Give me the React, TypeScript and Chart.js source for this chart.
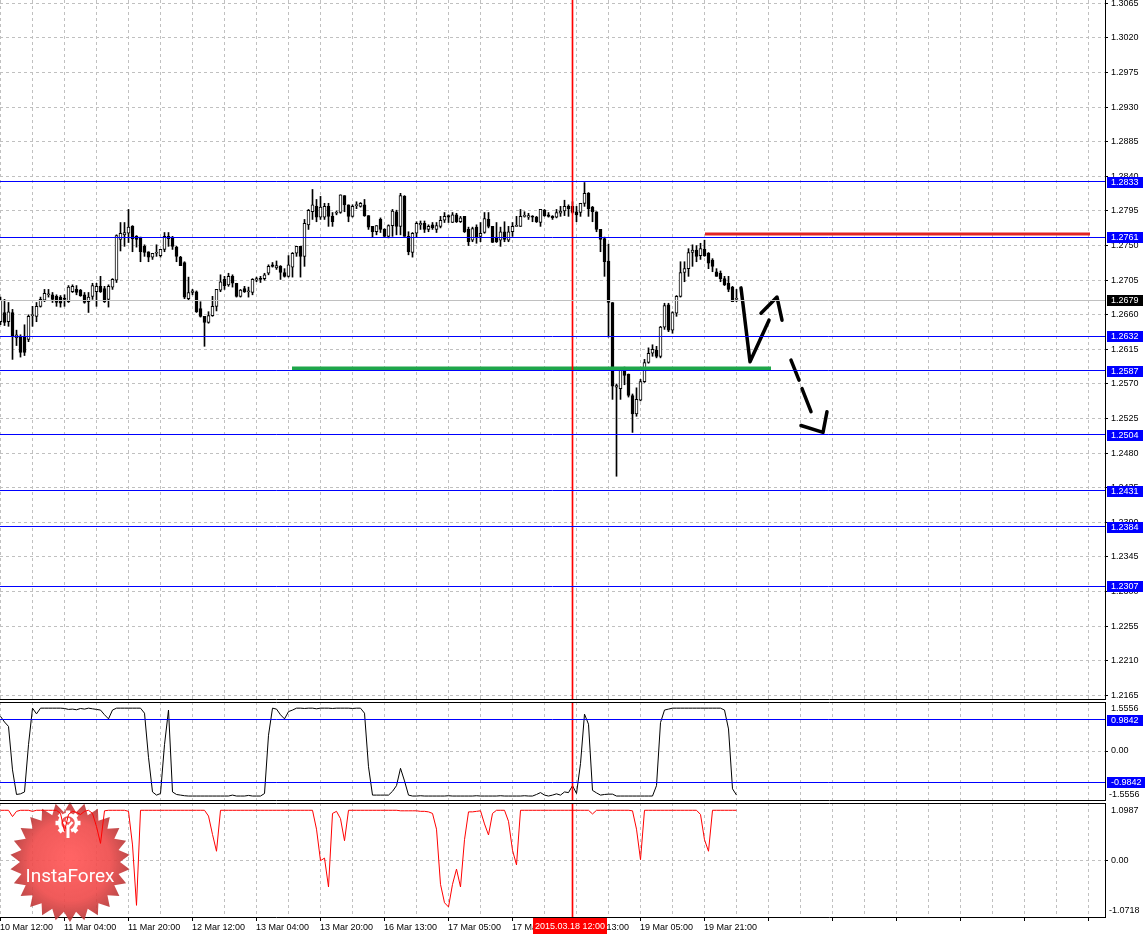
import React, { useEffect, useRef } from 'react';
import { Chart, registerables } from 'chart.js';

Chart.register(...registerables);

const FAMILY = "'Liberation Sans', Arial, sans-serif";
const TICK_FONT = { family: FAMILY, size: 9 };

// ---------------- data ----------------
const timeLabels = [
  '10 Mar 12:00', '11 Mar 04:00', '11 Mar 20:00', '12 Mar 12:00', '13 Mar 04:00', '13 Mar 20:00',
  '16 Mar 13:00', '17 Mar 05:00', '17 Mar 21:00', '18 Mar 13:00', '19 Mar 05:00', '19 Mar 21:00',
];
const markerBar = 143;
const markerLabel = '2015.03.18 12:00';

const priceTicks = [
  1.2165, 1.2210, 1.2255, 1.2300, 1.2345, 1.2390, 1.2435, 1.2480, 1.2525, 1.2570, 1.2615,
  1.2660, 1.2705, 1.2750, 1.2795, 1.2840, 1.2885, 1.2930, 1.2975, 1.3020, 1.3065,
];

const opens = [
  1.2651, 1.2663, 1.2651, 1.2663, 1.2630, 1.2632, 1.2632, 1.2628, 1.2659, 1.2658,
  1.2671, 1.2679, 1.2686, 1.2686, 1.2684, 1.2683, 1.2681, 1.2677, 1.2690, 1.2693,
  1.2692, 1.2686, 1.2677, 1.2684, 1.2690, 1.2697, 1.2694, 1.2680, 1.2696, 1.2705,
  1.2758, 1.2764, 1.2766, 1.2775, 1.2762, 1.2761, 1.2749, 1.2742, 1.2735, 1.2740,
  1.2737, 1.2745, 1.2762, 1.2761, 1.2748, 1.2735, 1.2728, 1.2681, 1.2689, 1.2690,
  1.2668, 1.2658, 1.2650, 1.2659, 1.2671, 1.2692, 1.2706, 1.2699, 1.2710, 1.2701,
  1.2684, 1.2694, 1.2690, 1.2689, 1.2705, 1.2707, 1.2707, 1.2714, 1.2725, 1.2721,
  1.2723, 1.2715, 1.2710, 1.2722, 1.2740, 1.2749, 1.2736, 1.2777, 1.2794, 1.2801,
  1.2787, 1.2787, 1.2801, 1.2788, 1.2792, 1.2793, 1.2815, 1.2803, 1.2788, 1.2802,
  1.2801, 1.2803, 1.2789, 1.2775, 1.2768, 1.2784, 1.2771, 1.2762, 1.2776, 1.2794,
  1.2775, 1.2814, 1.2762, 1.2741, 1.2766, 1.2777, 1.2779, 1.2771, 1.2777, 1.2771,
  1.2775, 1.2783, 1.2789, 1.2780, 1.2790, 1.2781, 1.2788, 1.2771, 1.2757, 1.2774,
  1.2762, 1.2767, 1.2784, 1.2775, 1.2761, 1.2757, 1.2768, 1.2757, 1.2768, 1.2775,
  1.2775, 1.2788, 1.2787, 1.2788, 1.2787, 1.2780, 1.2796, 1.2790, 1.2788, 1.2787,
  1.2792, 1.2795, 1.2801, 1.2801, 1.2794, 1.2793, 1.2805, 1.2818, 1.2800, 1.2794,
  1.2771, 1.2759, 1.2730, 1.2676, 1.2566, 1.2564, 1.2588, 1.2583, 1.2555, 1.2531,
  1.2549, 1.2573, 1.2598, 1.2610, 1.2614, 1.2606, 1.2644, 1.2673, 1.2640, 1.2662,
  1.2684, 1.2715, 1.2720, 1.2741, 1.2744, 1.2737, 1.2745, 1.2740, 1.2731, 1.2716,
  1.2714, 1.2707, 1.2701, 1.2696, 1.2680,
];
const highs = [
  1.2683, 1.2680, 1.2676, 1.2667, 1.2640, 1.2634, 1.2647, 1.2660, 1.2671, 1.2676,
  1.2683, 1.2693, 1.2693, 1.2689, 1.2686, 1.2685, 1.2686, 1.2698, 1.2699, 1.2698,
  1.2693, 1.2689, 1.2689, 1.2701, 1.2701, 1.2710, 1.2697, 1.2699, 1.2707, 1.2764,
  1.2780, 1.2780, 1.2797, 1.2776, 1.2763, 1.2761, 1.2751, 1.2742, 1.2740, 1.2751,
  1.2745, 1.2767, 1.2767, 1.2762, 1.2749, 1.2736, 1.2729, 1.2709, 1.2693, 1.2691,
  1.2677, 1.2658, 1.2664, 1.2684, 1.2693, 1.2712, 1.2710, 1.2714, 1.2712, 1.2701,
  1.2693, 1.2697, 1.2696, 1.2707, 1.2709, 1.2710, 1.2714, 1.2725, 1.2728, 1.2730,
  1.2724, 1.2720, 1.2737, 1.2741, 1.2749, 1.2749, 1.2784, 1.2797, 1.2823, 1.2810,
  1.2814, 1.2805, 1.2805, 1.2793, 1.2795, 1.2816, 1.2815, 1.2803, 1.2803, 1.2807,
  1.2806, 1.2810, 1.2789, 1.2775, 1.2776, 1.2786, 1.2772, 1.2777, 1.2797, 1.2796,
  1.2818, 1.2815, 1.2768, 1.2767, 1.2781, 1.2782, 1.2782, 1.2777, 1.2780, 1.2780,
  1.2788, 1.2793, 1.2790, 1.2793, 1.2792, 1.2788, 1.2788, 1.2774, 1.2774, 1.2777,
  1.2780, 1.2793, 1.2793, 1.2775, 1.2780, 1.2774, 1.2781, 1.2775, 1.2780, 1.2788,
  1.2797, 1.2794, 1.2792, 1.2789, 1.2788, 1.2797, 1.2797, 1.2793, 1.2789, 1.2797,
  1.2801, 1.2809, 1.2803, 1.2807, 1.2801, 1.2805, 1.2832, 1.2819, 1.2801, 1.2794,
  1.2771, 1.2761, 1.2752, 1.2676, 1.2570, 1.2591, 1.2592, 1.2583, 1.2557, 1.2565,
  1.2576, 1.2602, 1.2617, 1.2621, 1.2619, 1.2645, 1.2675, 1.2675, 1.2664, 1.2685,
  1.2729, 1.2729, 1.2746, 1.2751, 1.2750, 1.2753, 1.2757, 1.2741, 1.2733, 1.2720,
  1.2717, 1.2710, 1.2710, 1.2697, 1.2693,
];
const lows = [
  1.2647, 1.2646, 1.2645, 1.2602, 1.2620, 1.2605, 1.2607, 1.2625, 1.2645, 1.2651,
  1.2670, 1.2677, 1.2683, 1.2676, 1.2671, 1.2670, 1.2671, 1.2676, 1.2689, 1.2686,
  1.2684, 1.2675, 1.2663, 1.2680, 1.2671, 1.2689, 1.2676, 1.2670, 1.2693, 1.2702,
  1.2743, 1.2749, 1.2754, 1.2742, 1.2748, 1.2729, 1.2736, 1.2729, 1.2732, 1.2736,
  1.2735, 1.2742, 1.2749, 1.2745, 1.2729, 1.2724, 1.2681, 1.2679, 1.2686, 1.2663,
  1.2657, 1.2619, 1.2649, 1.2658, 1.2665, 1.2690, 1.2693, 1.2697, 1.2696, 1.2683,
  1.2683, 1.2689, 1.2683, 1.2686, 1.2703, 1.2702, 1.2705, 1.2712, 1.2722, 1.2719,
  1.2706, 1.2709, 1.2709, 1.2709, 1.2736, 1.2709, 1.2723, 1.2771, 1.2784, 1.2781,
  1.2784, 1.2784, 1.2775, 1.2775, 1.2790, 1.2792, 1.2794, 1.2781, 1.2787, 1.2798,
  1.2800, 1.2788, 1.2771, 1.2761, 1.2764, 1.2767, 1.2761, 1.2760, 1.2762, 1.2764,
  1.2764, 1.2762, 1.2738, 1.2735, 1.2761, 1.2771, 1.2767, 1.2768, 1.2771, 1.2767,
  1.2773, 1.2780, 1.2780, 1.2780, 1.2780, 1.2780, 1.2767, 1.2750, 1.2755, 1.2753,
  1.2755, 1.2766, 1.2773, 1.2754, 1.2754, 1.2749, 1.2755, 1.2755, 1.2762, 1.2775,
  1.2775, 1.2787, 1.2784, 1.2781, 1.2780, 1.2775, 1.2788, 1.2787, 1.2784, 1.2786,
  1.2788, 1.2789, 1.2788, 1.2792, 1.2781, 1.2788, 1.2801, 1.2788, 1.2781, 1.2768,
  1.2742, 1.2710, 1.2631, 1.2550, 1.2450, 1.2550, 1.2569, 1.2553, 1.2507, 1.2528,
  1.2548, 1.2572, 1.2597, 1.2606, 1.2604, 1.2604, 1.2641, 1.2638, 1.2636, 1.2658,
  1.2683, 1.2703, 1.2710, 1.2723, 1.2729, 1.2732, 1.2736, 1.2720, 1.2716, 1.2710,
  1.2703, 1.2698, 1.2690, 1.2677, 1.2677,
];
const closes = [
  1.2679, 1.2650, 1.2664, 1.2632, 1.2634, 1.2611, 1.2611, 1.2658, 1.2660, 1.2671,
  1.2680, 1.2688, 1.2687, 1.2680, 1.2676, 1.2675, 1.2680, 1.2696, 1.2697, 1.2689,
  1.2685, 1.2676, 1.2683, 1.2698, 1.2697, 1.2690, 1.2677, 1.2697, 1.2706, 1.2763,
  1.2766, 1.2767, 1.2774, 1.2759, 1.2758, 1.2742, 1.2741, 1.2735, 1.2740, 1.2741,
  1.2745, 1.2762, 1.2759, 1.2749, 1.2736, 1.2724, 1.2683, 1.2689, 1.2691, 1.2664,
  1.2658, 1.2650, 1.2659, 1.2671, 1.2693, 1.2703, 1.2698, 1.2710, 1.2701, 1.2684,
  1.2692, 1.2690, 1.2690, 1.2706, 1.2707, 1.2706, 1.2712, 1.2723, 1.2723, 1.2724,
  1.2715, 1.2710, 1.2725, 1.2740, 1.2749, 1.2736, 1.2779, 1.2796, 1.2803, 1.2787,
  1.2800, 1.2801, 1.2788, 1.2781, 1.2793, 1.2816, 1.2803, 1.2788, 1.2801, 1.2802,
  1.2805, 1.2789, 1.2774, 1.2768, 1.2776, 1.2771, 1.2762, 1.2776, 1.2795, 1.2775,
  1.2815, 1.2762, 1.2742, 1.2766, 1.2779, 1.2779, 1.2771, 1.2775, 1.2773, 1.2776,
  1.2783, 1.2788, 1.2787, 1.2790, 1.2781, 1.2786, 1.2768, 1.2755, 1.2772, 1.2761,
  1.2766, 1.2785, 1.2775, 1.2754, 1.2755, 1.2768, 1.2758, 1.2768, 1.2775, 1.2776,
  1.2788, 1.2788, 1.2789, 1.2787, 1.2781, 1.2797, 1.2789, 1.2788, 1.2786, 1.2793,
  1.2795, 1.2801, 1.2798, 1.2793, 1.2790, 1.2805, 1.2818, 1.2798, 1.2794, 1.2771,
  1.2758, 1.2729, 1.2676, 1.2567, 1.2568, 1.2588, 1.2581, 1.2555, 1.2531, 1.2550,
  1.2573, 1.2598, 1.2610, 1.2615, 1.2606, 1.2644, 1.2672, 1.2640, 1.2663, 1.2684,
  1.2715, 1.2720, 1.2741, 1.2744, 1.2736, 1.2746, 1.2737, 1.2727, 1.2723, 1.2710,
  1.2707, 1.2699, 1.2693, 1.2677, 1.2680,
];

const blueLevels = [1.2833, 1.2761, 1.2632, 1.2587, 1.2504, 1.2431, 1.2384, 1.2307];
const bidLevel = 1.2679;
const supportLevel = 1.2590;
const supportSpan = [73, 192.75];
const resistLevel = 1.2765;
const resistSpan = [176.25, 272.5];

const zigzagSolid = [{ x: 185.25, y: 1.2695 }, { x: 187.5, y: 1.2599 }, { x: 192.25, y: 1.2653 }];
const zigzagHead = [{ x: 190.25, y: 1.2662 }, { x: 194.25, y: 1.2683 }, { x: 195.5, y: 1.2653 }];
const dashA = [{ x: 197.75, y: 1.2601 }, { x: 199.75, y: 1.2575 }];
const dashB = [{ x: 200.5, y: 1.2564 }, { x: 202.75, y: 1.2534 }];
const dashHead = [{ x: 200.25, y: 1.2516 }, { x: 205.75, y: 1.2507 }, { x: 206.75, y: 1.2534 }];

const oscLine = [
  1.10, 0.92, 0.78, -0.60, -1.38, -1.36, -1.30, 0.20, 1.36, 1.18,
  1.36, 1.36, 1.36, 1.36, 1.36, 1.36, 1.35, 1.32, 1.33, 1.31,
  1.35, 1.33, 1.36, 1.34, 1.32, 1.30, 1.15, 1.02, 1.30, 1.36,
  1.36, 1.36, 1.36, 1.36, 1.36, 1.36, 1.20, -0.20, -1.30, -1.40,
  -1.35, 0.20, 1.30, -1.30, -1.38, -1.40, -1.42, -1.43, -1.43, -1.43,
  -1.43, -1.43, -1.43, -1.43, -1.43, -1.43, -1.43, -1.43, -1.40, -1.43,
  -1.43, -1.43, -1.41, -1.43, -1.43, -1.43, -1.35, 0.50, 1.36, 1.33,
  1.15, 1.02, 1.25, 1.30, 1.36, 1.36, 1.35, 1.36, 1.36, 1.34,
  1.36, 1.36, 1.36, 1.35, 1.36, 1.36, 1.36, 1.36, 1.35, 1.36,
  1.36, 1.20, -0.50, -1.40, -1.40, -1.40, -1.40, -1.40, -1.28, -1.10,
  -0.55, -0.95, -1.40, -1.43, -1.43, -1.42, -1.43, -1.43, -1.43, -1.43,
  -1.43, -1.43, -1.42, -1.43, -1.43, -1.43, -1.43, -1.43, -1.43, -1.42,
  -1.43, -1.43, -1.43, -1.43, -1.43, -1.42, -1.43, -1.43, -1.43, -1.43,
  -1.43, -1.42, -1.43, -1.43, -1.38, -1.32, -1.40, -1.43, -1.40, -1.36,
  -1.40, -1.30, -1.32, -1.10, -1.35, -0.40, 1.17, 0.85, -1.25, -1.33,
  -1.40, -1.38, -1.37, -1.37, -1.43, -1.43, -1.43, -1.43, -1.43, -1.43,
  -1.43, -1.43, -1.43, -1.43, -1.10, 0.90, 1.30, 1.33, 1.36, 1.36,
  1.36, 1.36, 1.36, 1.36, 1.36, 1.36, 1.36, 1.36, 1.36, 1.36,
  1.36, 1.30, 0.70, -1.20, -1.40,
];
const oscLevels = [0.9842, -0.9842];
const oscMin = -1.5556;
const oscMax = 1.5556;

const trendLine = [
  0.96, 0.96, 0.96, 0.84, 0.94, 0.96, 0.96, 0.96, 0.94, 0.96,
  0.96, 0.96, 0.96, 0.96, 0.96, 0.90, 0.56, 0.88, 0.94, 0.92,
  0.88, 0.94, 0.96, 0.90, 0.65, 0.33, 0.95, 0.96, 0.96, 0.96,
  0.96, 0.96, 0.94, 0.30, -0.85, 0.96, 0.96, 0.96, 0.96, 0.96,
  0.96, 0.96, 0.96, 0.96, 0.96, 0.96, 0.96, 0.96, 0.96, 0.96,
  0.96, 0.96, 0.85, 0.50, 0.18, 0.96, 0.96, 0.96, 0.96, 0.96,
  0.96, 0.96, 0.96, 0.96, 0.96, 0.96, 0.96, 0.96, 0.96, 0.96,
  0.96, 0.96, 0.96, 0.96, 0.96, 0.96, 0.96, 0.96, 0.96, 0.60,
  0.00, 0.05, -0.50, 0.90, 0.94, 0.80, 0.38, 0.96, 0.96, 0.96,
  0.96, 0.96, 0.96, 0.96, 0.96, 0.96, 0.96, 0.96, 0.96, 0.96,
  0.95, 0.95, 0.95, 0.95, 0.95, 0.94, 0.94, 0.93, 0.90, 0.60,
  -0.45, -0.80, -0.88, -0.45, -0.16, -0.50, 0.40, 0.93, 0.93, 0.94,
  0.95, 0.70, 0.49, 0.90, 0.96, 0.96, 0.96, 0.75, 0.20, -0.08,
  0.96, 0.96, 0.96, 0.96, 0.96, 0.96, 0.96, 0.96, 0.96, 0.96,
  0.96, 0.96, 0.96, 0.96, 0.96, 0.96, 0.96, 0.96, 0.89, 0.96,
  0.96, 0.96, 0.96, 0.96, 0.96, 0.96, 0.96, 0.96, 0.95, 0.60,
  0.02, 0.96, 0.96, 0.96, 0.96, 0.96, 0.96, 0.96, 0.96, 0.96,
  0.96, 0.96, 0.96, 0.96, 0.96, 0.88, 0.40, 0.18, 0.96, 0.96,
  0.96, 0.96, 0.96, 0.96, 0.96,
];
const trendMin = -1.0718;
const trendMax = 1.0987;

// ---------------- layout constants ----------------
const CANVAS_W = 1147;
const AXIS_W = 42;
const SLOTS = 276.25; // bar slots across the plot width (4px each)
const BAR_OFF = 0.125;
const PRICE_MIN = 1.21603;
const PRICE_MAX = 1.30694;
const GRID_STEP = 8;

const gridTicks: number[] = [];
for (let v = 0; v <= 272; v += GRID_STEP) gridTicks.push(v);

function xScale(withLabels: boolean, height: number) {
  return {
    type: 'linear',
    min: 0,
    max: SLOTS,
    offset: false,
    position: 'bottom',
    afterBuildTicks: (s: any) => {
      s.ticks = gridTicks.map((v) => ({ value: v }));
    },
    afterFit: (s: any) => {
      s.height = height;
      s.paddingLeft = 0;
      s.paddingRight = 0;
    },
    ticks: {
      display: withLabels,
      autoSkip: false,
      maxRotation: 0,
      minRotation: 0,
      align: 'start',
      padding: 1,
      color: '#000',
      font: TICK_FONT,
      callback: (_v: any, i: number) => (i % 2 === 0 ? timeLabels[i / 2] ?? '' : ''),
    },
    grid: {
      offset: false,
      color: '#c0c0c0',
      lineWidth: 1,
      drawTicks: withLabels,
      tickLength: 4,
      tickColor: (ctx: any) => (ctx.index % 2 === 0 ? '#000' : 'rgba(0,0,0,0)'),
    },
    border: { display: withLabels, color: '#000', width: 1, dash: [3, 3] },
  };
}

function yScale(min: number, max: number, tickValues: number[], fmt: (v: number) => string) {
  return {
    type: 'linear',
    position: 'right',
    min,
    max,
    bounds: 'data',
    weight: 1,
    afterBuildTicks: (s: any) => {
      s.ticks = tickValues.map((v) => ({ value: v }));
    },
    afterFit: (s: any) => {
      s.width = AXIS_W;
      s.paddingTop = 0;
      s.paddingBottom = 0;
    },
    ticks: { color: '#000', font: TICK_FONT, padding: 3, autoSkip: false, callback: (v: any) => fmt(Number(v)) },
    grid: { color: '#c0c0c0', lineWidth: 1, tickLength: 3, tickColor: '#000' },
    border: { display: true, color: '#000', width: 1, dash: [3, 3] },
  };
}

// Horizontal level lines drawn by a zero-width scale's own (pixel-aligned) grid
function levelScale(min: number, max: number, levels: number[], colorOf: (v: number) => string) {
  return {
    type: 'linear',
    position: 'right',
    min,
    max,
    bounds: 'data',
    weight: 0,
    afterBuildTicks: (s: any) => {
      s.ticks = levels.map((v) => ({ value: v }));
    },
    afterFit: (s: any) => {
      s.width = 0;
      s.paddingTop = 0;
      s.paddingBottom = 0;
    },
    ticks: { display: false },
    grid: {
      z: 1,
      lineWidth: 1,
      drawTicks: false,
      color: (ctx: any) => colorOf(ctx.tick ? ctx.tick.value : 0),
    },
    border: { display: false, dash: [] },
  };
}

function hLine(value: number, color: string, width: number, order: number, from: number, to: number) {
  return {
    type: 'line',
    data: [{ x: from, y: value }, { x: to, y: value }],
    borderColor: color,
    borderWidth: width,
    pointRadius: 0,
    fill: false,
    tension: 0,
    order,
  };
}

function vMarker(min: number, max: number) {
  return {
    type: 'bar',
    data: [{ x: markerBar + BAR_OFF, y: [min, max] }],
    backgroundColor: '#ff0000',
    borderWidth: 0,
    grouped: false,
    categoryPercentage: 1,
    barPercentage: 1,
    maxBarThickness: 1,
    order: 0,
  };
}

function penLine(points: { x: number; y: number }[]) {
  return {
    type: 'line',
    data: points,
    borderColor: '#000',
    borderWidth: 3.5,
    borderJoinStyle: 'round',
    borderCapStyle: 'round',
    pointRadius: 0,
    fill: false,
    tension: 0,
    order: 0,
  };
}

function drawTag(ctx: any, text: string, y: number, bg: string, left: number, width: number) {
  const yy = Math.round(y);
  ctx.fillStyle = bg;
  ctx.fillRect(left, yy - 5, width, 11);
  ctx.fillStyle = '#fff';
  ctx.fillText(text, left + 4, yy + 0.5);
}

function framePlugin(top: boolean, bottom: boolean) {
  return {
    id: 'frame',
    afterDraw(chart: any) {
      const { ctx, chartArea: a } = chart;
      ctx.save();
      ctx.strokeStyle = '#000';
      ctx.lineWidth = 1;
      ctx.setLineDash([]);
      ctx.beginPath();
      if (top) {
        ctx.moveTo(a.left, a.top + 0.5);
        ctx.lineTo(a.right + 1, a.top + 0.5);
      }
      if (bottom) {
        ctx.moveTo(a.left, a.bottom + 0.5);
        ctx.lineTo(a.right + 1, a.bottom + 0.5);
      }
      ctx.stroke();
      ctx.restore();
    },
  };
}

const mainTagsPlugin = {
  id: 'mainTags',
  afterDraw(chart: any) {
    const { ctx } = chart;
    const y = chart.scales.y;
    const left = chart.chartArea.right + 2;
    ctx.save();
    ctx.font = `9px ${FAMILY}`;
    ctx.textAlign = 'left';
    ctx.textBaseline = 'middle';
    blueLevels.forEach((v) => drawTag(ctx, v.toFixed(4), y.getPixelForValue(v), '#0000ff', left, 36));
    drawTag(ctx, bidLevel.toFixed(4), y.getPixelForValue(bidLevel), '#000000', left, 36);
    ctx.restore();
  },
};

const oscTagsPlugin = {
  id: 'oscTags',
  afterDraw(chart: any) {
    const { ctx, chartArea: a } = chart;
    const y = chart.scales.y;
    const left = a.right + 2;
    ctx.save();
    ctx.font = `9px ${FAMILY}`;
    ctx.textAlign = 'left';
    ctx.textBaseline = 'middle';
    ctx.fillStyle = '#000';
    ctx.fillText(oscMax.toFixed(4), left + 4, a.top + 7);
    ctx.fillText(oscMin.toFixed(4), left + 2, a.bottom - 5);
    oscLevels.forEach((v) =>
      drawTag(ctx, v.toFixed(4), y.getPixelForValue(v), '#0000ff', left, v < 0 ? 38 : 36)
    );
    ctx.restore();
  },
};

const trendTagsPlugin = {
  id: 'trendTags',
  afterDraw(chart: any) {
    const { ctx, chartArea: a } = chart;
    const left = a.right + 2;
    ctx.save();
    ctx.font = `9px ${FAMILY}`;
    ctx.textAlign = 'left';
    ctx.textBaseline = 'middle';
    ctx.fillStyle = '#000';
    ctx.fillText(trendMax.toFixed(4), left + 4, a.top + 8);
    ctx.fillText(trendMin.toFixed(4), left + 2, a.bottom - 6);
    // date marker tag on the time axis
    const px = Math.round(chart.scales.x.getPixelForValue(markerBar + BAR_OFF));
    ctx.fillStyle = '#ff0000';
    ctx.fillRect(px - 40, a.bottom + 1, 74, 17);
    ctx.fillStyle = '#fff';
    ctx.textAlign = 'center';
    ctx.fillText(markerLabel, px - 3, a.bottom + 10);
    ctx.restore();
  },
};

const badgePlugin = {
  id: 'badge',
  beforeDatasetsDraw(chart: any) {
    const ctx = chart.ctx;
    const cx = 70;
    const cy = 61;
    ctx.save();
    const spikes = 26;
    ctx.beginPath();
    for (let k = 0; k < spikes * 2; k++) {
      const r = k % 2 === 0 ? 60 : 50;
      const ang = -Math.PI / 2 + (k * Math.PI) / spikes;
      const px = cx + r * Math.cos(ang);
      const py = cy + r * Math.sin(ang);
      if (k === 0) ctx.moveTo(px, py);
      else ctx.lineTo(px, py);
    }
    ctx.closePath();
    const g = ctx.createRadialGradient(cx, cy - 4, 4, cx, cy, 60);
    g.addColorStop(0, 'rgba(255,88,88,0.93)');
    g.addColorStop(0.65, 'rgba(238,72,72,0.9)');
    g.addColorStop(1, 'rgba(180,48,48,0.88)');
    ctx.fillStyle = g;
    ctx.fill();
    // gear icon
    const gx = cx - 2;
    const gy = cy - 39;
    ctx.fillStyle = '#fff';
    ctx.strokeStyle = '#fff';
    for (let k = 0; k < 8; k++) {
      if (k === 4) continue;
      ctx.save();
      ctx.translate(gx, gy);
      ctx.rotate((k * Math.PI) / 4);
      ctx.fillRect(-2.2, -12.5, 4.4, 5);
      ctx.restore();
    }
    ctx.lineWidth = 3.5;
    ctx.beginPath();
    ctx.arc(gx, gy, 8.5, Math.PI * 0.62, Math.PI * 2.38);
    ctx.stroke();
    ctx.beginPath();
    ctx.arc(gx, gy - 3, 2.3, 0, Math.PI * 2);
    ctx.fill();
    ctx.lineWidth = 2.5;
    ctx.beginPath();
    ctx.moveTo(gx - 4.5, gy - 1);
    ctx.lineTo(gx, gy + 4);
    ctx.lineTo(gx + 4.5, gy - 1);
    ctx.stroke();
    ctx.lineWidth = 3;
    ctx.beginPath();
    ctx.moveTo(gx, gy + 3);
    ctx.lineTo(gx, gy + 15);
    ctx.stroke();
    // brand text
    ctx.font = `19px Roboto, ${FAMILY}`;
    ctx.textAlign = 'center';
    ctx.textBaseline = 'middle';
    ctx.fillText('InstaForex', cx, cy + 15);
    ctx.restore();
  },
};

function baseOptions(padTop: number) {
  return {
    responsive: false,
    animation: false,
    devicePixelRatio: 1,
    events: [],
    layout: { padding: { top: padTop, left: 0, right: 0, bottom: 0 } },
    plugins: { legend: { display: false }, tooltip: { enabled: false } },
  };
}

function mainConfig(): any {
  const bodies = {
    type: 'bar',
    data: opens.map((o, i) => ({ x: i + BAR_OFF, y: [o, closes[i]] })),
    backgroundColor: (ctx: any) => (closes[ctx.dataIndex] >= opens[ctx.dataIndex] ? '#ffffff' : '#000000'),
    borderColor: '#000',
    borderWidth: 1,
    borderSkipped: false,
    grouped: false,
    categoryPercentage: 1,
    barPercentage: 1,
    maxBarThickness: 3,
    minBarLength: 1,
    order: 6,
  };
  const wicks = {
    type: 'bar',
    data: lows.map((l, i) => ({ x: i + BAR_OFF, y: [l, highs[i]] })),
    backgroundColor: '#000',
    borderWidth: 0,
    grouped: false,
    categoryPercentage: 1,
    barPercentage: 1,
    maxBarThickness: 1,
    order: 7,
  };
  return {
    type: 'bar',
    data: {
      datasets: [
        penLine(zigzagSolid),
        penLine(zigzagHead),
        penLine(dashA),
        penLine(dashB),
        penLine(dashHead),
        hLine(supportLevel, '#1ea64a', 4, 1, supportSpan[0], supportSpan[1]),
        hLine(resistLevel, '#e02424', 3, 1, resistSpan[0], resistSpan[1]),
        vMarker(PRICE_MIN, PRICE_MAX),
        bodies,
        wicks,
      ],
    },
    options: {
      ...baseOptions(0),
      scales: {
        x: xScale(false, 1),
        lv: levelScale(PRICE_MIN, PRICE_MAX, [...blueLevels, bidLevel], (v) =>
          Math.abs(v - bidLevel) < 1e-9 ? '#c0c0c0' : '#0000ff'
        ),
        y: yScale(PRICE_MIN, PRICE_MAX, priceTicks, (v) => v.toFixed(4)),
      },
    },
    plugins: [framePlugin(false, true), mainTagsPlugin],
  };
}

function oscConfig(): any {
  return {
    type: 'line',
    data: {
      datasets: [
        vMarker(oscMin, oscMax),
        {
          type: 'line',
          data: oscLine.map((v, i) => ({ x: i + BAR_OFF, y: v })),
          borderColor: '#000',
          borderWidth: 1,
          pointRadius: 0,
          fill: false,
          tension: 0,
          order: 2,
        },
      ],
    },
    options: {
      ...baseOptions(2),
      scales: {
        x: xScale(false, 1),
        lv: levelScale(oscMin, oscMax, oscLevels, () => '#0000ff'),
        y: yScale(oscMin, oscMax, [0], () => '0.00'),
      },
    },
    plugins: [framePlugin(true, true), oscTagsPlugin],
  };
}

function trendConfig(): any {
  return {
    type: 'line',
    data: {
      datasets: [
        vMarker(trendMin, trendMax),
        {
          type: 'line',
          data: trendLine.map((v, i) => ({ x: i + BAR_OFF, y: v })),
          borderColor: '#ff0000',
          borderWidth: 1,
          pointRadius: 0,
          fill: false,
          tension: 0,
          order: 1,
        },
      ],
    },
    options: {
      ...baseOptions(2),
      scales: {
        x: xScale(true, 17),
        y: yScale(trendMin, trendMax, [0], () => '0.00'),
      },
    },
    plugins: [framePlugin(true, false), badgePlugin, trendTagsPlugin],
  };
}

export default function App() {
  const mainRef = useRef<HTMLCanvasElement>(null);
  const oscRef = useRef<HTMLCanvasElement>(null);
  const trendRef = useRef<HTMLCanvasElement>(null);

  useEffect(() => {
    const charts: Chart[] = [];
    if (mainRef.current) charts.push(new Chart(mainRef.current, mainConfig()));
    if (oscRef.current) charts.push(new Chart(oscRef.current, oscConfig()));
    if (trendRef.current) charts.push(new Chart(trendRef.current, trendConfig()));
    return () => charts.forEach((c) => c.destroy());
  }, []);

  return (
    <div
      style={{
        position: 'absolute',
        left: 0,
        top: 0,
        width: CANVAS_W,
        height: 934,
        background: '#ffffff',
        overflow: 'hidden',
      }}
    >
      <canvas ref={mainRef} width={CANVAS_W} height={700} style={{ position: 'absolute', left: 0, top: 0 }} />
      <canvas ref={oscRef} width={CANVAS_W} height={101} style={{ position: 'absolute', left: 0, top: 700 }} />
      <canvas ref={trendRef} width={CANVAS_W} height={133} style={{ position: 'absolute', left: 0, top: 801 }} />
    </div>
  );
}
